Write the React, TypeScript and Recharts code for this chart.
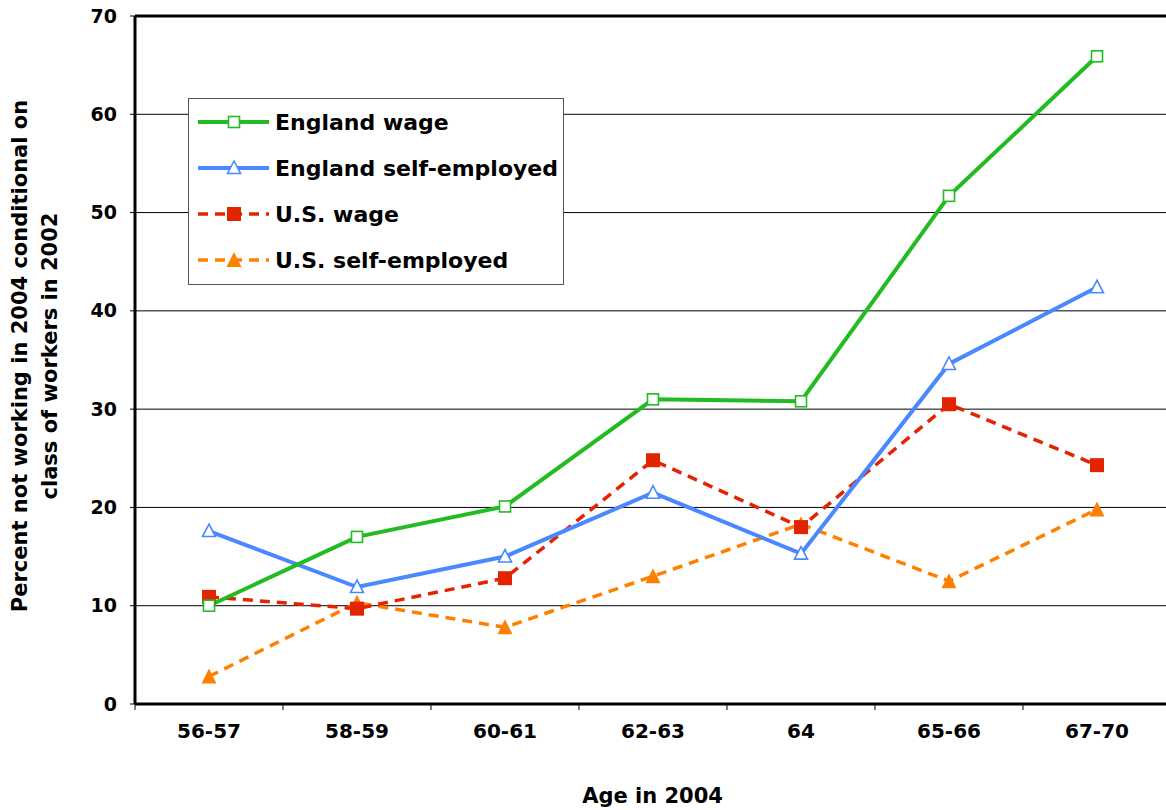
import React from 'react';
import { LineChart, Line, XAxis, YAxis, CartesianGrid, ReferenceLine, Legend } from 'recharts';

const categories = ['56-57', '58-59', '60-61', '62-63', '64', '65-66', '67-70'];
const englandWage = [10.0, 17.0, 20.1, 31.0, 30.8, 51.7, 65.9];
const englandSelf = [17.6, 11.9, 15.0, 21.5, 15.3, 34.6, 42.4];
const usWage = [10.9, 9.7, 12.8, 24.8, 18.0, 30.5, 24.3];
const usSelf = [2.8, 10.3, 7.8, 13.0, 18.3, 12.5, 19.8];
const yTicks = [0, 10, 20, 30, 40, 50, 60, 70];
const xTicks = [-0.5, 0, 0.5, 1, 1.5, 2, 2.5, 3, 3.5, 4, 4.5, 5, 5.5, 6, 6.5];

const seriesNames = ['England wage', 'England self-employed', 'U.S. wage', 'U.S. self-employed'];

const data = categories.map((c, i) => ({
  i,
  cat: c,
  ew: englandWage[i],
  es: englandSelf[i],
  uw: usWage[i],
  us: usSelf[i],
}));

const FONT = '"DejaVu Sans", Verdana, sans-serif';
const GREEN = '#22BB22';
const BLUE = '#4A88FF';
const RED = '#E32400';
const ORANGE = '#FF8000';

const HollowSquare = (props: any) => {
  const { cx, cy } = props;
  if (cx == null || cy == null) return null;
  return <rect x={cx - 5.5} y={cy - 5.5} width={11} height={11} fill="#fff" stroke={GREEN} strokeWidth={1.6} />;
};
const HollowTriangle = (props: any) => {
  const { cx, cy } = props;
  if (cx == null || cy == null) return null;
  return <polygon points={`${cx},${cy - 7} ${cx - 6.5},${cy + 5.5} ${cx + 6.5},${cy + 5.5}`} fill="#fff" stroke={BLUE} strokeWidth={1.6} />;
};
const FilledSquare = (props: any) => {
  const { cx, cy } = props;
  if (cx == null || cy == null) return null;
  return <rect x={cx - 7} y={cy - 7} width={14} height={14} fill={RED} stroke="none" />;
};
const FilledTriangle = (props: any) => {
  const { cx, cy } = props;
  if (cx == null || cy == null) return null;
  return <polygon points={`${cx},${cy - 8} ${cx - 7.5},${cy + 7} ${cx + 7.5},${cy + 7}`} fill={ORANGE} stroke="none" />;
};

const XTick = (props: any) => {
  const { x, y, payload } = props;
  const v = payload.value;
  if (Math.abs(v - Math.round(v)) > 0.01) {
    return <line x1={x} x2={x} y1={y} y2={y + 6} stroke="#000" strokeWidth={1} />;
  }
  return (
    <text x={x} y={y + 34} textAnchor="middle" fontSize={20} fontWeight="bold" fill="#000" fontFamily={FONT}>
      {categories[Math.round(v)]}
    </text>
  );
};

const YTick = (props: any) => {
  const { x, y, payload } = props;
  return (
    <text x={x} y={y} dy={6.5} textAnchor="end" fontSize={19} fontWeight="bold" fill="#000" fontFamily={FONT}>
      {payload.value}
    </text>
  );
};

const YTitle = () => {
  const cy = 356;
  return (
    <g>
      <text x={19.5} y={cy} transform={`rotate(-90, 19.5, ${cy})`} textAnchor="middle" dominantBaseline="central" fontSize={21} fontWeight="bold" fill="#000" fontFamily={FONT}>
        Percent not working in 2004 conditional on
      </text>
      <text x={49.5} y={cy} transform={`rotate(-90, 49.5, ${cy})`} textAnchor="middle" dominantBaseline="central" fontSize={21} fontWeight="bold" fill="#000" fontFamily={FONT}>
        class of workers in 2002
      </text>
    </g>
  );
};

const XTitle = () => (
  <text x={652.5} y={803} textAnchor="middle" fontSize={21} fontWeight="bold" fill="#000" fontFamily={FONT}>
    Age in 2004
  </text>
);

const legendStyles = [
  { color: GREEN, dash: undefined as string | undefined, marker: 'hsq' },
  { color: BLUE, dash: undefined, marker: 'htri' },
  { color: RED, dash: '10 7', marker: 'fsq' },
  { color: ORANGE, dash: '10 7', marker: 'ftri' },
];

const LegendBox = () => (
  <div style={{ width: 376, height: 187, border: '1px solid #555', background: '#fff', boxSizing: 'border-box' }}>
    <svg width={374} height={185} style={{ display: 'block' }}>
      {seriesNames.map((name, k) => {
        const st = legendStyles[k];
        const cy = 23 + k * 46;
        const mx = 45;
        return (
          <g key={name}>
            <line x1={9} x2={80} y1={cy} y2={cy} stroke={st.color} strokeWidth={st.dash ? 3.5 : 4} strokeDasharray={st.dash} />
            {st.marker === 'hsq' && <rect x={mx - 5.5} y={cy - 5.5} width={11} height={11} fill="#fff" stroke={GREEN} strokeWidth={1.6} />}
            {st.marker === 'htri' && <polygon points={`${mx},${cy - 7} ${mx - 6.5},${cy + 5.5} ${mx + 6.5},${cy + 5.5}`} fill="#fff" stroke={BLUE} strokeWidth={1.6} />}
            {st.marker === 'fsq' && <rect x={mx - 7} y={cy - 7} width={14} height={14} fill={RED} />}
            {st.marker === 'ftri' && <polygon points={`${mx},${cy - 8} ${mx - 7.5},${cy + 7} ${mx + 7.5},${cy + 7}`} fill={ORANGE} />}
            <text x={86} y={cy} dy={8} fontSize={22} fontWeight="bold" fill="#000" fontFamily={FONT}>
              {name}
            </text>
          </g>
        );
      })}
    </svg>
  </div>
);

export default function App() {
  return (
    <div style={{ position: 'absolute', left: 0, top: 0, width: 1166, height: 810, background: '#fff', overflow: 'hidden' }}>
      <LineChart width={1171} height={810} data={data} margin={{ top: 16, right: 0, left: 0, bottom: 0 }}>
        <CartesianGrid horizontal vertical={false} stroke="#000" strokeWidth={1} />
        <XAxis
          type="number"
          dataKey="i"
          domain={[-0.5, 6.5]}
          ticks={xTicks}
          interval={0}
          allowDecimals
          height={106}
          tickSize={0}
          tickMargin={0}
          tickLine={false}
          tick={<XTick />}
          axisLine={{ stroke: '#000', strokeWidth: 3 }}
          label={{ content: <XTitle /> } as any}
        />
        <YAxis
          type="number"
          domain={[0, 70]}
          ticks={yTicks}
          interval={0}
          width={135}
          tickSize={5}
          tickMargin={13}
          tickLine={{ stroke: '#000', strokeWidth: 1 }}
          tick={<YTick />}
          axisLine={{ stroke: '#000', strokeWidth: 3 }}
          label={{ content: <YTitle /> } as any}
        />
        <ReferenceLine y={70} stroke="#000" strokeWidth={3} />
        <Legend
          layout="vertical"
          align="center"
          verticalAlign="middle"
          wrapperStyle={{ left: 188, top: 98, width: 376, height: 187 }}
          content={() => <LegendBox />}
        />
        <Line type="linear" dataKey="us" name={seriesNames[3]} stroke={ORANGE} strokeWidth={3.5} strokeDasharray="10 7" dot={<FilledTriangle />} isAnimationActive={false} />
        <Line type="linear" dataKey="uw" name={seriesNames[2]} stroke={RED} strokeWidth={3.5} strokeDasharray="10 7" dot={<FilledSquare />} isAnimationActive={false} />
        <Line type="linear" dataKey="es" name={seriesNames[1]} stroke={BLUE} strokeWidth={4} dot={<HollowTriangle />} isAnimationActive={false} />
        <Line type="linear" dataKey="ew" name={seriesNames[0]} stroke={GREEN} strokeWidth={4} dot={<HollowSquare />} isAnimationActive={false} />
      </LineChart>
    </div>
  );
}
